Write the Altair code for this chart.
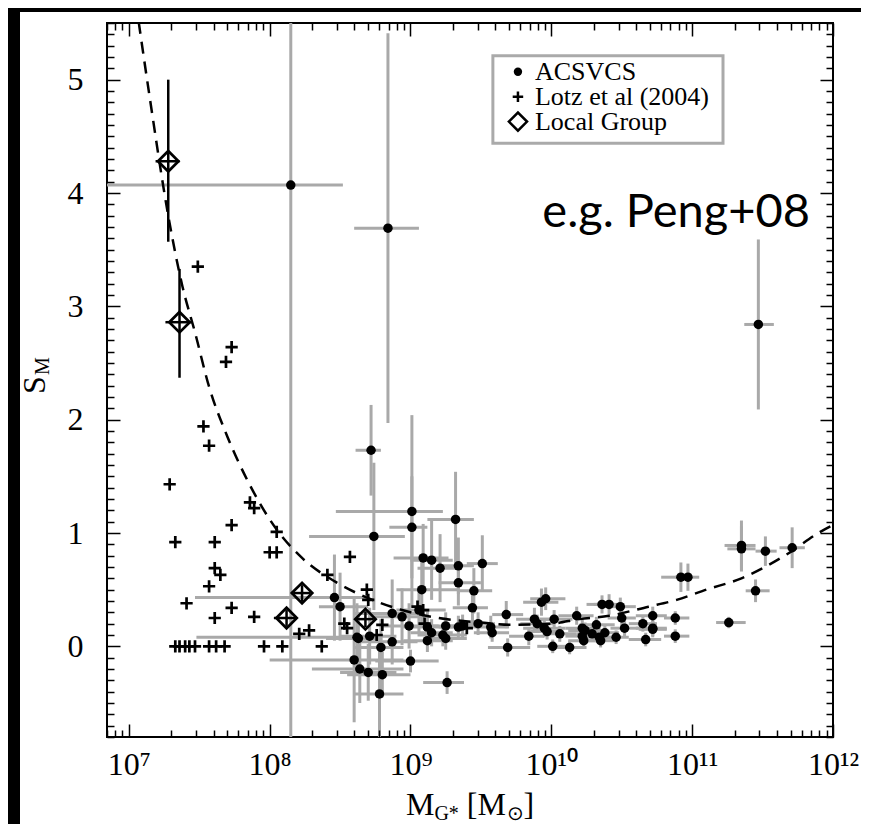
import json
import altair as alt
import pandas as pd

# ---------------- values ----------------
# ACSVCS: log10 stellar mass, S_M, log-mass range of the error bar, S_M error
acs_logm = [8.15, 8.84, 11.47, 8.72, 8.74, 9.01, 9.01, 9.32, 9.09, 9.15,
            9.21, 9.34, 9.51, 9.34, 9.08, 9.45, 9.44, 9.68, 8.87, 8.94,
            8.99, 9.06, 8.46, 8.50, 9.93, 9.96, 10.18, 10.36, 10.41, 10.49,
            10.50, 10.72, 10.88, 10.92, 10.97, 9.88, 9.95, 10.02, 9.57, 9.58,
            9.48, 9.34, 9.37, 9.25, 9.15, 9.12, 10.22, 10.24, 10.32, 10.65,
            10.72, 10.88, 8.62, 8.63, 8.71, 8.79, 8.87, 8.60, 8.64, 8.70,
            8.80, 8.78, 9.00, 9.26, 9.12, 9.23, 9.25, 9.69, 9.84, 9.90,
            9.97, 10.01, 10.06, 10.13, 10.22, 10.23, 10.29, 10.34, 10.35, 10.38,
            10.46, 10.52, 10.67, 10.72, 11.26, 11.45, 11.35, 11.35, 11.52, 11.71]
acs_s = [4.07, 3.69, 2.84, 1.73, 0.97, 1.19, 1.05, 1.12, 0.78, 0.76,
         0.69, 0.71, 0.73, 0.56, 0.50, 0.49, 0.34, 0.28, 0.29, 0.26,
         0.18, 0.32, 0.43, 0.35, 0.39, 0.42, 0.27, 0.37, 0.37, 0.35,
         0.25, 0.27, 0.25, 0.61, 0.61, 0.24, 0.16, 0.24, 0.17, 0.12,
         0.20, 0.17, 0.18, 0.18, 0.12, 0.17, 0.16, 0.14, 0.19, 0.20,
         0.16, 0.09, 0.08, 0.07, 0.09, -0.01, 0.04, -0.12, -0.20, -0.23,
         -0.25, -0.42, -0.13, -0.32, 0.05, 0.10, 0.07, -0.01, 0.09, 0.20,
         0.13, 0.00, 0.11, -0.01, 0.09, 0.05, 0.11, 0.08, 0.05, 0.12,
         0.08, 0.16, 0.06, 0.15, 0.21, 0.49, 0.89, 0.86, 0.84, 0.87]
acs_lo = [6.50, 8.60, 11.37, 8.61, 8.28, 8.47, 8.85, 9.12, 8.88, 9.00,
          9.05, 9.20, 9.40, 9.20, 8.90, 9.35, 9.30, 9.58, 8.60, 8.70,
          8.80, 8.90, 7.47, 8.35, 9.80, 9.85, 10.05, 10.25, 10.30, 10.40,
          10.40, 10.60, 10.80, 10.78, 10.88, 9.75, 9.80, 9.90, 9.45, 9.45,
          9.35, 9.20, 9.25, 9.10, 9.00, 8.95, 10.10, 10.12, 10.20, 10.55,
          10.60, 10.80, 7.48, 8.40, 8.50, 8.60, 8.65, 8.00, 8.30, 8.50,
          8.55, 8.60, 8.75, 9.09, 8.95, 9.05, 9.10, 9.55, 9.70, 9.78,
          9.85, 9.90, 9.95, 10.02, 10.10, 10.12, 10.18, 10.22, 10.25, 10.28,
          10.35, 10.42, 10.55, 10.62, 11.17, 11.38, 11.23, 11.25, 11.45, 11.62]
acs_hi = [8.52, 9.06, 11.58, 8.79, 8.96, 9.23, 9.12, 9.45, 9.27, 9.30,
          9.35, 9.45, 9.62, 9.50, 9.34, 9.58, 9.55, 9.80, 9.10, 9.10,
          9.20, 9.25, 8.69, 8.70, 10.05, 10.10, 10.30, 10.45, 10.50, 10.60,
          10.60, 10.82, 10.98, 11.00, 11.05, 10.00, 10.10, 10.15, 9.70, 9.70,
          9.60, 9.45, 9.50, 9.40, 9.30, 9.30, 10.35, 10.36, 10.45, 10.75,
          10.82, 10.98, 8.75, 8.80, 8.90, 8.95, 9.05, 8.95, 8.95, 8.90,
          9.00, 8.95, 9.20, 9.38, 9.30, 9.40, 9.40, 9.85, 9.95, 10.02,
          10.08, 10.10, 10.18, 10.25, 10.32, 10.35, 10.40, 10.45, 10.45, 10.48,
          10.55, 10.62, 10.78, 10.82, 11.38, 11.55, 11.45, 11.45, 11.60, 11.80]
acs_err = [6.00, 1.72, 0.75, 0.40, 0.65, 0.85, 0.45, 0.42, 0.30, 0.35,
           0.30, 0.25, 0.25, 0.20, 0.30, 0.20, 0.15, 0.12, 0.30, 0.25,
           0.20, 0.20, 0.38, 0.30, 0.12, 0.10, 0.08, 0.08, 0.09, 0.08,
           0.07, 0.08, 0.06, 0.13, 0.12, 0.10, 0.08, 0.08, 0.10, 0.08,
           0.10, 0.10, 0.10, 0.12, 0.12, 0.15, 0.08, 0.07, 0.07, 0.07,
           0.07, 0.06, 0.30, 0.20, 0.25, 0.25, 0.20, 0.55, 0.30, 0.25,
           0.20, 0.52, 0.10, 0.10, 0.10, 0.10, 0.10, 0.08, 0.08, 0.08,
           0.07, 0.06, 0.07, 0.06, 0.07, 0.06, 0.07, 0.06, 0.06, 0.07,
           0.06, 0.07, 0.06, 0.07, 0.05, 0.10, 0.22, 0.20, 0.13, 0.18]

# Lotz et al (2004): log10 mass, S_M
lotz_logm = [7.33, 7.36, 7.40, 7.43, 7.47, 7.57, 7.62, 7.68, 7.96, 8.09, 8.37,
             7.49, 7.73, 7.69, 7.53, 7.57, 7.29, 7.86, 7.89, 7.73, 7.33, 7.61,
             8.05, 8.00, 8.05, 7.61, 7.65, 7.57, 7.41, 7.73, 7.61, 7.89, 8.57,
             8.41, 8.69, 8.70, 8.21, 8.28, 8.53, 8.55, 8.80, 8.76, 9.05, 9.09,
             9.40, 9.10]
lotz_s = [0, 0, 0, 0, 0, 0, 0, 0, 0, 0, 0,
          3.35, 2.64, 2.51, 1.94, 1.77, 1.43, 1.27, 1.22, 1.07, 0.92, 0.92,
          1.01, 0.83, 0.83, 0.69, 0.63, 0.53, 0.38, 0.34, 0.25, 0.26, 0.79,
          0.63, 0.50, 0.41, 0.11, 0.14, 0.20, 0.16, 0.19, 0.10, 0.35, 0.32,
          0.16, 0.20]

# Local Group: log10 mass, S_M and error-bar ranges
lg_logm = [7.28, 7.36, 8.23, 8.12, 8.68]
lg_s = [4.28, 2.86, 0.47, 0.25, 0.24]
lg_xlo = [7.19, 7.26, 8.17, 8.03, 8.62]
lg_xhi = [7.36, 7.45, 8.29, 8.19, 8.74]
lg_ylo = [3.57, 2.37, 0.40, 0.18, 0.17]
lg_yhi = [5.00, 3.33, 0.54, 0.32, 0.31]

# dashed relation
curve_logm = [7.07, 7.15, 7.28, 7.38, 7.47, 7.57, 7.70, 7.84, 8.05, 8.23,
              8.48, 8.73, 8.94, 9.20, 9.50, 9.70, 10.00, 10.20, 10.41, 10.69,
              10.89, 11.10, 11.35, 11.67, 11.91, 12.00]
curve_s = [5.51, 4.83, 3.80, 3.18, 2.77, 2.29, 1.85, 1.47, 1.03, 0.78,
           0.56, 0.41, 0.32, 0.25, 0.21, 0.19, 0.20, 0.24, 0.27, 0.35,
           0.41, 0.50, 0.60, 0.81, 1.01, 1.07]

x_major = [1e7, 1e8, 1e9, 1e10, 1e11, 1e12]
x_tick_labels = ['10⁷', '10⁸', '10⁹', '10¹⁰', '10¹¹', '10¹²']
x_minor = [k * 10.0 ** n for n in range(6, 12) for k in range(2, 10)
           if 7e6 <= k * 10.0 ** n <= 1e12]
y_major = [0, 1, 2, 3, 4, 5]
y_minor = [round(v / 10, 1) for v in range(-8, 56) if v % 10 != 0]

legend_labels = ['ACSVCS', 'Lotz et al (2004)', 'Local Group']

# ---------------- tables ----------------
acs = pd.DataFrame({
    'm': [10 ** v for v in acs_logm], 's': acs_s,
    'mlo': [10 ** v for v in acs_lo], 'mhi': [10 ** v for v in acs_hi],
    'slo': [a - e for a, e in zip(acs_s, acs_err)],
    'shi': [a + e for a, e in zip(acs_s, acs_err)]})
lotz = pd.DataFrame({'m': [10 ** v for v in lotz_logm], 's': lotz_s})
lg = pd.DataFrame({'m': [10 ** v for v in lg_logm], 's': lg_s,
                   'mlo': [10 ** v for v in lg_xlo], 'mhi': [10 ** v for v in lg_xhi],
                   'slo': lg_ylo, 'shi': lg_yhi})
curve = pd.DataFrame({'m': [10 ** v for v in curve_logm], 's': curve_s})
anchor = pd.DataFrame({'m': [1e9], 's': [1.0]})

xs = alt.Scale(type='log', domain=[7e6, 1e12], nice=False)
ys = alt.Scale(domain=[-0.8, 5.5], nice=False, zero=False)
SERIF = 'Liberation Serif'
GREY = '#a9a9a9'
PLUS = 'M-1,0L1,0M0,-1L0,1'


def X(f):
    return alt.X(f, type='quantitative', scale=xs, axis=None)


def Y(f):
    return alt.Y(f, type='quantitative', scale=ys, axis=None)


def ax(orient, values, size, **kw):
    base = dict(orient=orient, values=values, tickSize=size, offset=-size,
                domain=False, grid=False, tickColor='black', tickWidth=1.5,
                title=None, zindex=1)
    base.update(kw)
    return alt.Axis(**base)


label_expr = json.dumps(x_tick_labels, ensure_ascii=False) + '[round(log(datum.value)/LN10) - 7]'

axis_specs = [
    (ax('bottom', x_major, 13, labelExpr=label_expr, labelFont=SERIF, labelFontSize=32,
        labelColor='black', labelPadding=12, labelFlush=False, labelOverlap=False),
     ax('left', y_major, 13, format='d', labelFont=SERIF, labelFontSize=32,
        labelColor='black', labelPadding=24, labelFlush=False, labelOverlap=False)),
    (ax('bottom', x_minor, 7, labels=False), ax('left', y_minor, 7, labels=False)),
    (ax('top', x_major, 13, labels=False), ax('right', y_major, 13, labels=False)),
    (ax('top', x_minor, 7, labels=False), ax('right', y_minor, 7, labels=False)),
]
axis_layers = [
    alt.Chart(anchor).mark_point(opacity=0).encode(
        x=alt.X('m:Q', scale=xs, axis=xa), y=alt.Y('s:Q', scale=ys, axis=ya))
    for xa, ya in axis_specs
]

# black page strips of the original figure (left and top)
strip_left = alt.Chart(anchor).mark_rect(color='black').encode(
    x=alt.value(-99), x2=alt.value(-87), y=alt.value(-15), y2=alt.value(801))
strip_top = alt.Chart(anchor).mark_rect(color='black').encode(
    x=alt.value(-99), x2=alt.value(754), y=alt.value(-15), y2=alt.value(-11))

acs_xerr = alt.Chart(acs).mark_rule(color=GREY, strokeWidth=3, clip=True).encode(
    x=X('mlo'), x2='mhi', y=Y('s'))
acs_yerr = alt.Chart(acs).mark_rule(color=GREY, strokeWidth=3, clip=True).encode(
    x=X('m'), y=Y('slo'), y2='shi')
relation = alt.Chart(curve).mark_line(color='black', strokeWidth=2.5, strokeDash=[12, 8],
                                      clip=True, interpolate='monotone').encode(
    x=X('m'), y=Y('s'))
acs_pts = alt.Chart(acs).mark_circle(color='black', size=90, opacity=1).encode(
    x=X('m'), y=Y('s'))
lotz_pts = alt.Chart(lotz).mark_point(shape=PLUS, size=150, filled=False, color='black',
                                      strokeWidth=2.7, opacity=1).encode(
    x=X('m'), y=Y('s'))
lg_xerr = alt.Chart(lg).mark_rule(color='black', strokeWidth=2.5, clip=True).encode(
    x=X('mlo'), x2='mhi', y=Y('s'))
lg_yerr = alt.Chart(lg).mark_rule(color='black', strokeWidth=2.5, clip=True).encode(
    x=X('m'), y=Y('slo'), y2='shi')
lg_pts = alt.Chart(lg).mark_point(shape='diamond', size=420, filled=False, color='black',
                                  strokeWidth=2.7, opacity=1).encode(
    x=X('m'), y=Y('s'))


def XD(v):
    return alt.XDatum(v, type='quantitative', scale=xs, axis=None)


def YD(v):
    return alt.YDatum(v, type='quantitative', scale=ys, axis=None)


# legend box and entries (placed in data coordinates)
leg_x0, leg_x1 = 10 ** 9.585, 10 ** 11.219
leg_y0, leg_y1 = 5.21, 4.44
leg_sym_x, leg_txt_x = 10 ** 9.763, 10 ** 9.884
leg_rows = [5.07, 4.85, 4.63]
legend_box = alt.Chart(anchor).mark_rect(fill='white', stroke='#aaaaaa', strokeWidth=3).encode(
    x=XD(leg_x0), x2=alt.X2Datum(leg_x1), y=YD(leg_y0), y2=alt.Y2Datum(leg_y1))
leg_dot = alt.Chart(anchor).mark_circle(color='black', size=70, opacity=1).encode(
    x=XD(leg_sym_x), y=YD(leg_rows[0]))
leg_plus = alt.Chart(anchor).mark_point(shape=PLUS, size=110, filled=False, color='black',
                                        strokeWidth=2.5, opacity=1).encode(
    x=XD(leg_sym_x), y=YD(leg_rows[1]))
leg_dia = alt.Chart(anchor).mark_point(shape='diamond', size=330, filled=False, color='black',
                                       strokeWidth=2.5, opacity=1).encode(
    x=XD(leg_sym_x), y=YD(leg_rows[2]))
leg_texts = [
    alt.Chart(anchor).mark_text(text=t, font=SERIF, fontSize=26, align='left',
                                baseline='middle', color='black').encode(
        x=XD(leg_txt_x), y=YD(r))
    for t, r in zip(legend_labels, leg_rows)
]

peng = alt.Chart(anchor).mark_text(text='e.g. Peng+08', font='Lato', fontSize=47,
                                   align='right', baseline='alphabetic', color='black').encode(
    x=XD(10 ** 11.837), y=YD(3.70))


def txt(t, px, py, size):
    return alt.Chart(anchor).mark_text(text=t, font=SERIF, fontSize=size, align='left',
                                       baseline='alphabetic', color='black').encode(
        x=alt.value(px), y=alt.value(py))


# x title  M_G* [M_sun]
xt0, xtb = 299, 792
x_title = [
    txt('M', xt0, xtb, 32),
    txt('G*', xt0 + 28.4, xtb + 5, 20),
    txt('[', xt0 + 60.8, xtb, 32),
    txt('M', xt0 + 71.5, xtb, 32),
    txt('⊙', xt0 + 100.5, xtb + 5, 20),
    txt(']', xt0 + 117.5, xtb, 32),
]
# y title  S_M (rotated)
y_title = [
    alt.Chart(anchor).mark_text(text='S', font=SERIF, fontSize=32, angle=270, align='center',
                                baseline='middle', color='black').encode(
        x=alt.value(-72), y=alt.value(362)),
    alt.Chart(anchor).mark_text(text='M', font=SERIF, fontSize=20, angle=270, align='center',
                                baseline='middle', color='black').encode(
        x=alt.value(-64), y=alt.value(343)),
]

chart = alt.layer(
    strip_left, strip_top, *axis_layers,
    acs_xerr, acs_yerr, relation, acs_pts, lotz_pts, lg_xerr, lg_yerr, lg_pts,
    legend_box, leg_dot, leg_plus, leg_dia, *leg_texts, peng, *x_title, *y_title
).resolve_axis(x='independent', y='independent').properties(
    width=726, height=714,
    autosize=alt.AutoSizeParams(type='none'),
    padding={'left': 99, 'top': 15, 'right': 28, 'bottom': 87},
    background='white'
).configure_view(stroke='black', strokeWidth=2)

chart.save('out.html', embed_options={'renderer': 'svg', 'actions': False})
